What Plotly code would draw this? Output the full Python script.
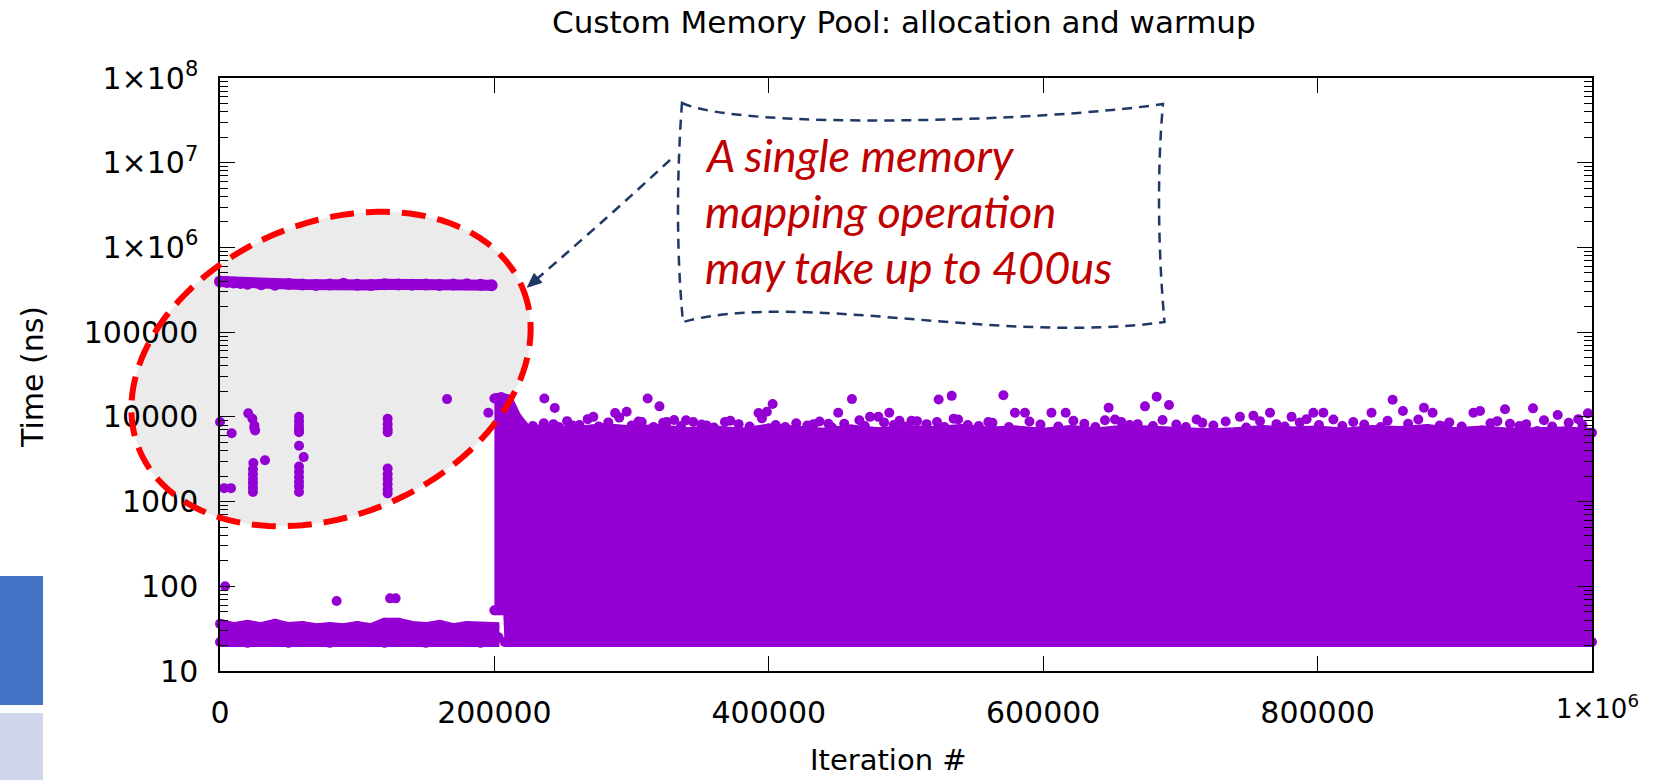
import numpy as np
import plotly.graph_objects as go

# ---------------- data ----------------
# warm-up phase fast path band (iterations 0..200k)
warm_x = [0, 10000, 20000, 30000, 40000, 50000, 60000, 70000, 80000, 90000, 100000,
          110000, 120000, 130000, 140000, 150000, 160000, 170000, 180000, 190000, 200000]
warm_top = [36, 33, 35, 33, 36, 33, 34, 32, 33, 32, 34, 32, 37, 37, 34, 33, 35, 32, 34, 33, 33]
warm_bottom = [22, 22, 21.5, 22, 22, 21.5, 22, 22, 21.5, 22, 22, 22, 21.5, 22, 22, 21.5, 22, 22, 22, 21.5, 22]

# memory mapping operations (~400us) during warm-up
mmap_x = [0, 5000, 10000, 15000, 20000, 30000, 40000, 50000, 60000, 70000, 80000, 90000,
          100000, 110000, 120000, 130000, 140000, 150000, 160000, 170000, 180000, 190000, 198000]
mmap_y = [395000, 390000, 385000, 380000, 372000, 368000, 362000, 370000, 365000, 360000,
          366000, 372000, 362000, 360000, 368000, 364000, 362000, 366000, 360000, 364000,
          368000, 362000, 358000]

# sparse slow allocations during warm-up
sparse_x = [0, 8500, 3000, 8000,
            20600, 23600, 25100, 25600, 25000,
            24300, 24000, 24000, 24000, 24000, 24000, 24000,
            32800,
            57600, 57600, 57600, 57600, 57600, 57600, 61000,
            57600, 57600, 57600, 57600, 57600, 57600,
            122200, 122200, 122200, 122200,
            122200, 122200, 122200, 122200, 122200, 122200,
            165500, 195600,
            3700, 85000, 124000, 128000,
            203000, 207500]
sparse_y = [8700, 6400, 1440, 1440,
            11000, 9500, 7900, 6900, 7400,
            2850, 2400, 2100, 1850, 1650, 1450, 1300,
            3070,
            10000, 8800, 7800, 7000, 6600, 4570, 3350,
            2600, 2250, 1950, 1700, 1500, 1300,
            9500, 8200, 7200, 6600,
            2450, 2100, 1850, 1600, 1400, 1250,
            16200, 11200,
            100, 67, 72, 72,
            25, 22]

# steady phase (200k..1M): dense region envelope
block_top_x = [200000, 205000, 210000, 216000, 223000, 240000, 260000, 280000, 300000, 320000,
               340000, 360000, 380000, 400000, 420000, 440000, 460000, 480000, 500000, 520000,
               540000, 560000, 580000, 600000, 620000, 640000, 660000, 680000, 700000, 720000,
               740000, 760000, 780000, 800000, 820000, 840000, 860000, 880000, 900000, 920000,
               940000, 960000, 980000, 1000000]
block_top_y = [16500, 17000, 16000, 10000, 7200, 7000, 6800, 7400, 6900, 7200,
               6600, 6900, 6500, 7300, 6700, 6500, 7100, 6600, 7000, 6800,
               7200, 6700, 6900, 6500, 7000, 6600, 7100, 6800, 6900, 6400,
               6600, 7000, 6700, 6900, 6500, 7000, 6800, 7200, 6600, 6900,
               6500, 6800, 6700, 6500]
block_bottom_x = [200000, 210000, 211000, 1000000]
block_bottom_y = [52, 52, 22, 22]

# steady phase: ragged edge of the dense region
edge_x = [228000, 236000, 247000, 253000, 262000, 268000, 276000, 283000, 291000, 300000,
          305000, 316000, 323000, 331000, 336000, 345000, 351000, 360000, 372000, 378000,
          386000, 395000, 405000, 412000, 420000, 428000, 437000, 446000, 455000, 466000,
          470000, 484000, 491000, 499000, 508000, 515000, 528000, 538000, 545000, 553000,
          563000, 575000, 590000, 598000, 611000, 622000, 630000, 638000, 657000, 663000,
          680000, 687000, 697000, 704000, 716000, 724000, 733000, 748000, 758000, 770000,
          776000, 787000, 792000, 801000, 818000, 826000, 834000, 846000, 851000, 866000,
          889000, 896000, 905000, 926000, 931000, 947000, 952000, 965000, 971000, 983000,
          993000]
edge_y = [7800, 8400, 7600, 8900, 8000, 9400, 7700, 8600, 9800, 7900,
          8800, 7600, 8500, 9200, 7800, 8700, 8100, 7500, 9000, 8200,
          7700, 9600, 8000, 7600, 8400, 7900, 8800, 7500, 8300, 9100,
          7800, 8600, 8000, 7700, 8900, 8200, 7600, 9300, 8000, 7800,
          8500, 7600, 8800, 8100, 7700, 9000, 8300, 7600, 8700, 8000,
          7800, 9200, 8100, 7600, 8500, 7900, 8800, 7500, 8900, 8200,
          7700, 8600, 9400, 8000, 7800, 8700, 8100, 7600, 9000, 8300,
          7900, 8600, 7700, 8400, 8900, 7800, 8200, 9100, 7700, 8500,
          8000]

# steady phase: points sticking out above the dense region
out_x = [236400, 244000, 243000, 249000, 257000, 272100, 288000, 296400, 307400, 311700,
         320300, 325600, 339700, 354700, 368000, 392500, 398600, 402800, 432600, 443500,
         450600, 460600, 473800, 479900, 487800, 495200, 504000, 522600, 523800, 533300,
         534700, 560000, 571000, 579400, 586700, 606000, 616400, 645000, 647700, 652300,
         668800, 674200, 682700, 691700, 711800, 743400, 753200, 765300, 781000, 796900,
         804200, 811500, 839300, 854700, 862200, 873400, 877500, 883800, 891700, 913600,
         918400, 936600, 940200, 957000, 975000, 990000, 997000]
out_y = [16500, 12700, 8200, 6800, 7900, 10000, 11100, 11500, 8700, 16500,
         13300, 8700, 9100, 7900, 8700, 11100, 11500, 14200, 8200, 8300,
         11200, 16200, 10000, 10000, 11200, 9000, 9000, 8700, 16000, 17700,
         9500, 8700, 18000, 11200, 11200, 11200, 11200, 9100, 12800, 9300,
         8200, 13300, 17300, 13800, 9300, 10000, 10300, 11200, 10000, 11200,
         11200, 9300, 11200, 15900, 11700, 9300, 12800, 11200, 7700, 11200,
         11700, 12300, 8300, 12600, 10500, 9400, 11000]

x_tick_vals = [0, 200000, 400000, 600000, 800000, 1000000]
x_tick_text = ["0", "200000", "400000", "600000", "800000", ""]
y_tick_vals = [10, 100, 1000, 10000, 100000, 1000000, 10000000, 100000000]
y_tick_text = ["10", "100", "1000", "10000", "100000",
               "1×10<sup>6</sup>", "1×10<sup>7</sup>", "1×10<sup>8</sup>"]
y_minor_vals = [m * 10 ** e for e in range(1, 8) for m in range(2, 10)]

# ---------------- layout geometry (pixels) ----------------
W, H = 1667, 780
L, R, T, B = 220, 1592, 78, 671
FONT = "DejaVu Sans"
PURPLE = "#9400D3"


def PX(x):
    return (x - L) / (R - L)


def PY(y):
    return (B - y) / (B - T)


def path_from(cmds):
    out = []
    for c in cmds:
        if isinstance(c, str):
            out.append(c)
        else:
            out.append(f"{PX(c[0]):.5f},{PY(c[1]):.5f}")
    return " ".join(out)


fig = go.Figure()

# warm-up fast band
fig.add_trace(go.Scatter(
    x=warm_x + warm_x[::-1], y=warm_top + warm_bottom[::-1],
    mode="lines+markers", fill="toself", fillcolor=PURPLE,
    line=dict(color=PURPLE, width=10), marker=dict(color=PURPLE, size=10),
    cliponaxis=False, hoverinfo="skip", showlegend=False))

# steady dense region
fig.add_trace(go.Scatter(
    x=block_top_x + block_bottom_x[::-1], y=block_top_y + block_bottom_y[::-1],
    mode="lines+markers", fill="toself", fillcolor=PURPLE,
    line=dict(color=PURPLE, width=10), marker=dict(color=PURPLE, size=10),
    cliponaxis=False, hoverinfo="skip", showlegend=False))

# mmap line
fig.add_trace(go.Scatter(
    x=mmap_x, y=mmap_y, mode="lines+markers",
    line=dict(color=PURPLE, width=11), marker=dict(color=PURPLE, size=12),
    cliponaxis=False, showlegend=False))

# sparse points
fig.add_trace(go.Scatter(
    x=sparse_x, y=sparse_y, mode="markers",
    marker=dict(color=PURPLE, size=10), cliponaxis=False, showlegend=False))

fig.add_trace(go.Scatter(
    x=edge_x, y=edge_y, mode="markers",
    marker=dict(color=PURPLE, size=10), cliponaxis=False, showlegend=False))

fig.add_trace(go.Scatter(
    x=out_x, y=out_y, mode="markers",
    marker=dict(color=PURPLE, size=10), cliponaxis=False, showlegend=False))

# ---------------- shapes ----------------
shapes = []
# slide artefacts on the left edge
shapes.append(dict(type="rect", xref="paper", yref="paper", layer="above",
                   x0=PX(0), x1=PX(43), y0=PY(576), y1=PY(705),
                   fillcolor="#4472C4", line=dict(width=0)))
shapes.append(dict(type="rect", xref="paper", yref="paper", layer="above",
                   x0=PX(0), x1=PX(43), y0=PY(713), y1=PY(781),
                   fillcolor="#CFD5EA", line=dict(width=0)))

# tilted ellipse
cx, cy, ea, eb, th = 331, 369, 208, 146, np.radians(23.2)
tt = np.linspace(0, 2 * np.pi, 145)
ex = cx + ea * np.cos(tt) * np.cos(th) + eb * np.sin(tt) * np.sin(th)
ey = cy - ea * np.cos(tt) * np.sin(th) + eb * np.sin(tt) * np.cos(th)
epath = "M " + " L ".join(f"{PX(a):.5f},{PY(b):.5f}" for a, b in zip(ex, ey)) + " Z"
shapes.append(dict(type="path", xref="paper", yref="paper", layer="below", path=epath,
                   fillcolor="#EBEBEB", line=dict(width=0)))
shapes.append(dict(type="path", xref="paper", yref="paper", layer="above", path=epath,
                   fillcolor="rgba(0,0,0,0)",
                   line=dict(color="#FF0000", width=6, dash="24px,12px")))

NAVY = "#1F3864"
# callout wave box
box = path_from(["M", (682, 103), "C", (740, 130), (1040, 122), (1163, 104),
                 "C", (1157, 170), (1158, 250), (1164.5, 322),
                 "C", (1000, 345), (800, 290), (683, 322),
                 "C", (676, 250), (677, 170), (682, 103), "Z"])
shapes.append(dict(type="path", xref="paper", yref="paper", layer="above", path=box,
                   fillcolor="rgba(0,0,0,0)",
                   line=dict(color=NAVY, width=2.5, dash="10px,7px")))
# arrow
base = np.array([538.0, 278.0])
ctrl = np.array([612.0, 214.0])
d = (base - ctrl) / np.linalg.norm(base - ctrl)
tip = base + 14 * d
perp = np.array([d[1], -d[0]]) * 6
arrow = path_from(["M", (670, 160), "Q", tuple(ctrl), tuple(base)])
shapes.append(dict(type="path", xref="paper", yref="paper", layer="above", path=arrow,
                   line=dict(color=NAVY, width=2.5, dash="10px,7px")))
head = path_from(["M", tuple(tip), "L", tuple(base + perp), "L", tuple(base - perp), "Z"])
shapes.append(dict(type="path", xref="paper", yref="paper", layer="above", path=head,
                   fillcolor=NAVY, line=dict(color=NAVY, width=1)))

# ---------------- annotations ----------------
ann = []
ann.append(dict(xref="paper", yref="paper", x=PX(904), y=PY(22), xanchor="center",
                yanchor="middle", showarrow=False,
                text="Custom Memory Pool: allocation and warmup",
                font=dict(family=FONT, size=31, color="black")))
ann.append(dict(xref="paper", yref="paper", x=PX(32), y=PY(377), xanchor="center",
                yanchor="middle", showarrow=False, textangle=-90, text="Time (ns)",
                font=dict(family=FONT, size=30, color="black")))
ann.append(dict(xref="paper", yref="paper", x=PX(888), y=PY(760), xanchor="center",
                yanchor="middle", showarrow=False, text="Iteration #",
                font=dict(family=FONT, size=29, color="black")))
ann.append(dict(xref="x", yref="paper", x=x_tick_vals[-1], y=PY(707), xanchor="center",
                yanchor="middle", xshift=5, showarrow=False, text="1×10<sup>6</sup>",
                font=dict(family=FONT, size=26, color="black")))
RED = "#C00000"
for txt, yb in [("A single memory", 155), ("mapping operation", 211),
                ("may take up to 400us", 267)]:
    ann.append(dict(xref="paper", yref="paper", x=PX(703), y=PY(yb), xanchor="left",
                    yanchor="middle", showarrow=False, text=f"<i>{txt}</i>",
                    font=dict(family="Lato, 'Open Sans', sans-serif", size=45, color=RED)))

fig.update_layout(
    width=W, height=H, autosize=False,
    margin=dict(l=L, r=W - R, t=T, b=H - B, pad=0),
    paper_bgcolor="white", plot_bgcolor="rgba(0,0,0,0)",
    showlegend=False, shapes=shapes, annotations=ann,
    font=dict(family=FONT, size=30, color="black"),
    xaxis=dict(range=[0, 1000000], tickmode="array", tickvals=x_tick_vals,
               ticktext=x_tick_text, ticks="inside", ticklen=15, tickwidth=1.3,
               tickcolor="black", showline=True, linecolor="black", linewidth=1.5,
               mirror="ticks", showgrid=False, zeroline=False,
               tickfont=dict(family=FONT, size=30, color="black"),
               ticklabelstandoff=14),
    yaxis=dict(type="log", range=[1, 8], tickmode="array", tickvals=y_tick_vals,
               ticktext=y_tick_text, ticks="inside", ticklen=15, tickwidth=1.3,
               tickcolor="black", showline=True, linecolor="black", linewidth=1.5,
               mirror="ticks", showgrid=False, zeroline=False,
               tickfont=dict(family=FONT, size=30, color="black"),
               ticklabelstandoff=14,
               minor=dict(tickmode="array", tickvals=y_minor_vals, ticks="inside",
                          ticklen=8, tickwidth=1.2, tickcolor="black", showgrid=False)),
)

fig.write_html("out.html")
